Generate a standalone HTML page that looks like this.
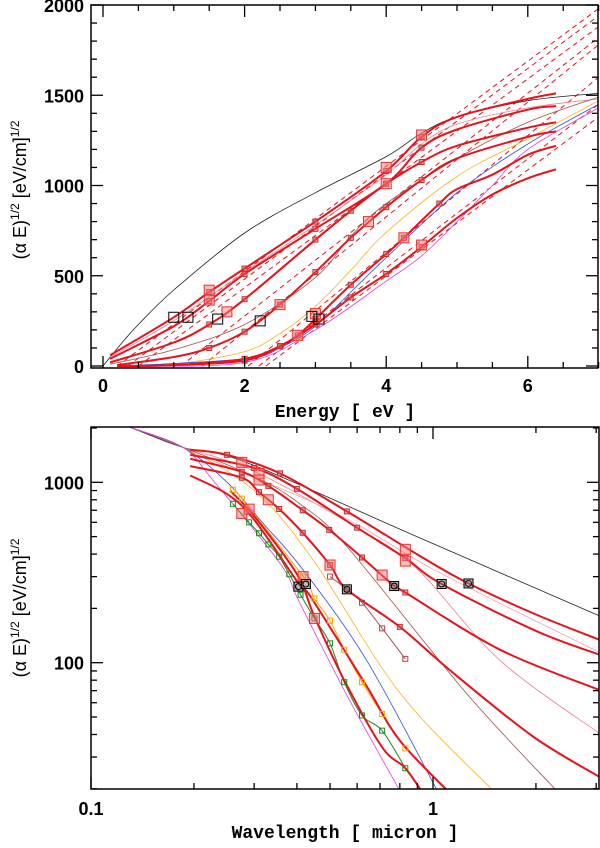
<!DOCTYPE html>
<html><head><meta charset="utf-8"><style>
html,body{margin:0;padding:0;background:#fff;}
svg{display:block;}
.tk{font-family:"Liberation Sans",sans-serif;font-weight:bold;font-size:18px;}
.ttl{font-family:"Liberation Mono",monospace;font-weight:bold;font-size:18px;}
.yt{font-family:"Liberation Sans",sans-serif;font-size:18px;}
</style></head><body>
<svg id="chart" width="600" height="848" viewBox="0 0 600 848" xmlns="http://www.w3.org/2000/svg">
<defs>
<clipPath id="clipTop"><rect x="91" y="5" width="507" height="363"/></clipPath>
<clipPath id="clipBot"><rect x="91" y="427" width="508" height="362"/></clipPath>
</defs>
<g id="top"></g>
<g id="bot"></g>
</svg>
<script>
// ---------- TOP PANEL DATA (Energy eV, (alpha E)^1/2) ----------
const topBlack=[[0,0],[0.25,120],[0.5,230],[1,421],[2,737],[3,960],[4,1160],[4.5,1290],[5,1380],[6,1470],[7,1510]];
const topR1=[[0.1,60],[1,270],[1.5,410],[2,540],[3,800],[4,1080],[4.5,1270],[5,1380],[6,1480],[6.4,1510]];
const topR2=[[0.1,40],[1,220],[1.5,360],[2,510],[3,760],[4,1010],[4.5,1210],[5,1310],[6,1420],[6.4,1440]];
const topR3=[[0.1,20],[1,130],[1.5,230],[2,370],[3,700],[3.5,860],[4,1010],[4.5,1130],[5,1220],[6,1320],[6.4,1350]];
const topR4=[[0.2,5],[1,50],[1.5,100],[2,190],[2.5,340],[3,520],[3.5,710],[4,880],[4.5,1030],[5,1150],[6,1270],[6.4,1300]];
const topR5=[[0.2,0],[1,5],[2,40],[2.5,110],[2.75,170],[3,260],[3.5,450],[4,620],[4.25,710],[4.75,900],[5,980],[5.5,1060],[6,1170],[6.4,1220]];
const topR6=[[0.2,0],[1,5],[2,30],[2.5,110],[3,230],[3.5,380],[4,510],[4.5,660],[5,820],[5.5,950],[6,1040],[6.4,1090]];
const topOrange=[[0.2,0],[1,10],[2,80],[2.5,180],[3,330],[3.5,530],[4,740],[5,1050],[6,1260],[7,1470]];
const topBlue=[[0.3,0],[2,40],[2.5,100],[3,220],[3.5,410],[4,600],[5,960],[6,1230],[7,1450]];
const topMagenta=[[0.3,0],[2,20],[3,200],[4,470],[4.5,610],[5,800],[5.5,1000],[6,1200],[7,1430]];
const topBrown=[[0.1,10],[1,90],[2,230],[3,490],[3.5,720],[4,900],[5,1150],[6,1350],[7,1490]];
const topPink=[[0.1,50],[1,250],[2,520],[3,780],[4,1060],[4.5,1230],[5,1340],[6,1430],[7,1480]];
const dashIntercepts=[0.2,0.35,0.5,1.1,1.4,2.05,2.2,2.3];
const dashEndValues=[1980,1940,1880,1820,1780,1600,1450,1380];
const topBlackSquares=[[1,270],[1.2,270],[1.62,260],[2.22,250],[2.95,275],[3.05,260]];
const topBigSquares=[[1.5,420],[1.5,365],[1.75,300],[2.5,340],[2.75,170],[3,290],[3.75,800],[4,1010],[4,1100],[4.25,710],[4.5,670],[4.5,1280]];
const topTicksX=[0,2,4,6];
const topTicksY=[0,500,1000,1500,2000];

// ---------- BOTTOM PANEL DATA (Wavelength micron, (alpha E)^1/2) ----------
const botBlack=[[0.13,2020],[0.186,1560],[0.286,1284],[0.917,491],[3.1,180]];
const botR1=[[0.195,1516],[0.25,1420],[0.357,1121],[0.56,690],[0.917,390],[1.27,275],[2,185],[3.1,133]];
const botR2=[[0.195,1420],[0.3,1200],[0.4,920],[0.6,560],[0.83,380],[1.06,273],[2,150],[3.1,110]];
const botR3=[[0.195,1350],[0.276,1144],[0.33,955],[0.416,700],[0.497,545],[0.62,383],[0.77,266],[0.83,245],[1.57,118],[3.1,70]];
const botR4=[[0.195,1230],[0.276,1060],[0.31,881],[0.355,711],[0.416,525],[0.5,348],[0.56,255],[0.8,158],[1.12,91],[1.96,39],[3.1,23]];
const botR5=[[0.195,1090],[0.25,860],[0.3,620],[0.41,265],[0.44,230],[0.64,74],[0.8,37],[1.15,18]];
const botR6=[[0.255,900],[0.3,650],[0.4,310],[0.45,180],[0.55,80],[0.71,34],[0.83,26],[0.95,18]];
const botGreen=[[0.26,760],[0.29,600],[0.31,522],[0.33,453],[0.355,387],[0.38,309],[0.41,238],[0.45,176],[0.5,128],[0.55,78],[0.62,51],[0.71,42],[0.83,26]];
const botOrangeMk=[[0.26,910],[0.276,812],[0.417,300],[0.45,227],[0.5,171],[0.55,118],[0.62,78],[0.71,52],[0.83,33.5]];
const botBlue=[[0.13,2020],[0.186,1560],[0.25,1000],[0.318,595],[0.417,327],[0.64,103],[1.03,19.5]];
const botOrange=[[0.13,2020],[0.186,1560],[0.3,900],[0.446,371],[0.8,68],[1.5,19.5]];
const botMagenta=[[0.13,2020],[0.186,1560],[0.227,1030],[0.357,355],[0.408,214],[0.57,62],[0.8,19.5]];
const botBrown=[[0.13,2020],[0.186,1560],[0.3,1080],[0.408,760],[0.56,440],[1.25,68],[2.3,19.5]];
const botPink=[[0.186,1560],[0.3,1150],[0.6,560],[0.9,330],[1.57,103],[3.1,40]];
const botPink2=[[0.2,1450],[0.5,700],[1,330],[2,170],[3.1,113]];
const botBrownMk=[[0.5,300],[0.56,255],[0.62,215],[0.71,155],[0.83,105]];
const botBlackSquares=[[0.404,264],[0.425,273],[0.56,255],[0.77,266],[1.06,273],[1.27,275]];
const botBigSquares=[[0.276,1290],[0.31,1120],[0.31,1030],[0.33,800],[0.276,672],[0.29,710],[0.5,348],[0.71,306],[0.83,425],[0.83,366],[0.417,300],[0.45,176]];
const botTicksX=[0.1,1];
const botTicksY=[100,1000];

const NS="http://www.w3.org/2000/svg";
function mk(parent,tag,attrs){const e=document.createElementNS(NS,tag);for(const k in attrs)e.setAttribute(k,attrs[k]);parent.appendChild(e);return e;}
const xT=e=>103+70.8*e, yT=v=>366-0.1805*v;
const xB=l=>91+342*Math.log10(l/0.1), yB=v=>662.7-180.4*Math.log10(v/100);
function smooth(pts){
  let d="M"+pts[0][0].toFixed(1)+","+pts[0][1].toFixed(1);
  for(let i=0;i<pts.length-1;i++){
    const p0=pts[i-1]||pts[i],p1=pts[i],p2=pts[i+1],p3=pts[i+2]||p2;
    const c1=[p1[0]+(p2[0]-p0[0])/6,p1[1]+(p2[1]-p0[1])/6];
    const c2=[p2[0]-(p3[0]-p1[0])/6,p2[1]-(p3[1]-p1[1])/6];
    d+="C"+c1.map(n=>n.toFixed(1))+" "+c2.map(n=>n.toFixed(1))+" "+p2.map(n=>n.toFixed(1));
  }
  return d;
}
function curve(g,data,fx,fy,color,w,name,clip){
  const p=mk(g,"path",{d:smooth(data.map(q=>[fx(q[0]),fy(q[1])])),fill:"none",stroke:color,"stroke-width":w,"clip-path":clip});
  
  
}
function square(g,x,y,s,color,name,fill){
  const r=mk(g,"rect",{x:x-s/2,y:y-s/2,width:s,height:s,fill:fill||"none",stroke:color,"stroke-width":1});
  
  
}
const RED="#e8121a";
// ---------- TOP ----------
const gt=document.getElementById("top");
const CT="url(#clipTop)";
dashIntercepts.forEach((e0,i)=>{
  const l=mk(gt,"line",{x1:xT(e0),y1:yT(0),x2:xT(7),y2:yT(dashEndValues[i]),stroke:RED,"stroke-width":1,"stroke-dasharray":"5,4","clip-path":CT});
  
  
});
curve(gt,topBlack,xT,yT,"#222",0.8,"black-curve",CT);
curve(gt,topPink,xT,yT,"#f08090",0.8,"pink-curve",CT);
curve(gt,topBrown,xT,yT,"#a0524d",0.8,"brown-curve",CT);
curve(gt,topOrange,xT,yT,"#ffb020",0.8,"orange-curve",CT);
curve(gt,topBlue,xT,yT,"#3050e0",0.8,"blue-curve",CT);
curve(gt,topMagenta,xT,yT,"#e040e0",0.8,"magenta-curve",CT);
[topR1,topR2,topR3,topR4,topR5,topR6].forEach((c,i)=>{
  curve(gt,c,xT,yT,RED,2,"red-curve-"+(i+1),CT);
  c.forEach(q=>{ if(q[0]>=1.5&&q[0]<=4.8) square(gt,xT(q[0]),yT(q[1]),5,"#c03030","data-marker","rgba(230,80,80,0.5)"); });
});
topBigSquares.forEach(q=>square(gt,xT(q[0]),yT(q[1]),10,"#ee3030","large-marker","rgba(240,120,120,0.5)"));
topBlackSquares.forEach(q=>square(gt,xT(q[0]),yT(q[1]),10,"#000","black-marker"));
mk(gt,"rect",{x:91,y:5,width:507,height:363,fill:"none",stroke:"#000","stroke-width":1.5});
for(let e=0;e<=7.01;e+=0.5){const major=Math.abs(e%2)<0.01;const L=major?12:6;
  mk(gt,"line",{x1:xT(e),y1:368,x2:xT(e),y2:368-L,stroke:"#000","stroke-width":1.3});
  mk(gt,"line",{x1:xT(e),y1:5,x2:xT(e),y2:5+L,stroke:"#000","stroke-width":1.3});}
for(let v=0;v<=2000;v+=100){const major=v%500===0;const L=major?12:6;
  mk(gt,"line",{x1:91,y1:yT(v),x2:91+L,y2:yT(v),stroke:"#000","stroke-width":1.3});
  mk(gt,"line",{x1:598,y1:yT(v),x2:598-L,y2:yT(v),stroke:"#000","stroke-width":1.3});}
topTicksX.forEach(e=>{const t=mk(gt,"text",{x:xT(e),y:392,"text-anchor":"middle",class:"tk"});t.textContent=e;
  });
topTicksY.forEach(v=>{const t=mk(gt,"text",{x:84,y:yT(v)+7,"text-anchor":"end",class:"tk"});t.textContent=v;
  });
// ---------- BOTTOM ----------
const gb=document.getElementById("bot");
const CB="url(#clipBot)";
curve(gb,botBlack,xB,yB,"#222",0.8,"black-curve",CB);
curve(gb,botPink,xB,yB,"#f08090",0.8,"pink-curve",CB);
curve(gb,botPink2,xB,yB,"#f4a0b0",0.8,"pink-curve-2",CB);
curve(gb,botBrown,xB,yB,"#a0524d",0.8,"brown-curve",CB);
curve(gb,botOrange,xB,yB,"#ffb020",0.8,"orange-curve",CB);
curve(gb,botBlue,xB,yB,"#3050e0",0.8,"blue-curve",CB);
curve(gb,botMagenta,xB,yB,"#e040e0",0.8,"magenta-curve",CB);
curve(gb,botGreen,xB,yB,"#1a8a1a",1,"green-curve",CB);
curve(gb,botOrangeMk,xB,yB,"#ffa000",1,"orange-marker-curve",CB);
curve(gb,botBrownMk,xB,yB,"#a0524d",1,"brown-marker-curve",CB);
[botR1,botR2,botR3,botR4,botR5,botR6].forEach((c,i)=>curve(gb,c,xB,yB,RED,2,"red-curve-"+(i+1),CB));
botGreen.forEach(q=>square(gb,xB(q[0]),yB(q[1]),5,"#1a8a1a","green-marker"));
botOrangeMk.forEach(q=>square(gb,xB(q[0]),yB(q[1]),5,"#ffa000","orange-marker"));
botBrownMk.forEach(q=>square(gb,xB(q[0]),yB(q[1]),5,"#c04050","brown-marker"));
[botR1,botR2,botR3,botR4].forEach(c=>c.forEach(q=>{if(q[0]>=0.25&&q[0]<=0.85)square(gb,xB(q[0]),yB(q[1]),5,"#c03030","data-marker","rgba(230,80,80,0.5)");}));
botBigSquares.forEach(q=>square(gb,xB(q[0]),yB(q[1]),10,"#ee3030","large-marker","rgba(240,120,120,0.5)"));
botBlackSquares.forEach(q=>{square(gb,xB(q[0]),yB(q[1]),9,"#000","black-marker","rgba(120,120,120,0.5)");
  const c=mk(gb,"circle",{cx:xB(q[0]),cy:yB(q[1]),r:3,fill:"none",stroke:"#000","stroke-width":1});
  });
mk(gb,"rect",{x:91,y:427,width:508,height:362,fill:"none",stroke:"#000","stroke-width":1.5});
[0.1,1].forEach(d=>{for(let k=1;k<=9;k++){const l=d*k;if(l<0.1||l>3.06)continue;const L=k===1?12:6;
  mk(gb,"line",{x1:xB(l),y1:789,x2:xB(l),y2:789-L,stroke:"#000","stroke-width":1.3});
  mk(gb,"line",{x1:xB(l),y1:427,x2:xB(l),y2:427+L,stroke:"#000","stroke-width":1.3});}});
[10,100,1000].forEach(d=>{for(let k=1;k<=9;k++){const v=d*k;if(v<20||v>2030)continue;const L=k===1?12:6;
  mk(gb,"line",{x1:91,y1:yB(v),x2:91+L,y2:yB(v),stroke:"#000","stroke-width":1.3});
  mk(gb,"line",{x1:599,y1:yB(v),x2:599-L,y2:yB(v),stroke:"#000","stroke-width":1.3});}});
botTicksX.forEach(l=>{const t=mk(gb,"text",{x:xB(l),y:815,"text-anchor":"middle",class:"tk"});t.textContent=l;
  });
botTicksY.forEach(v=>{const t=mk(gb,"text",{x:84,y:yB(v)+7,"text-anchor":"end",class:"tk"});t.textContent=v;
  });
</script>
<svg style="position:absolute;left:0;top:0" width="600" height="848">
<text class="ttl" x="345" y="417" text-anchor="middle">Energy [ eV ]</text>
<text class="ttl" x="345" y="838" text-anchor="middle">Wavelength [ micron ]</text>
<text class="yt" transform="translate(26,190) rotate(-90)" text-anchor="middle">(α E)<tspan font-size="12" dy="-7">1/2</tspan><tspan dy="7"> [eV/cm]</tspan><tspan font-size="12" dy="-7">1/2</tspan></text>
<text class="yt" transform="translate(26,608) rotate(-90)" text-anchor="middle">(α E)<tspan font-size="12" dy="-7">1/2</tspan><tspan dy="7"> [eV/cm]</tspan><tspan font-size="12" dy="-7">1/2</tspan></text>
</svg>
</body></html>
